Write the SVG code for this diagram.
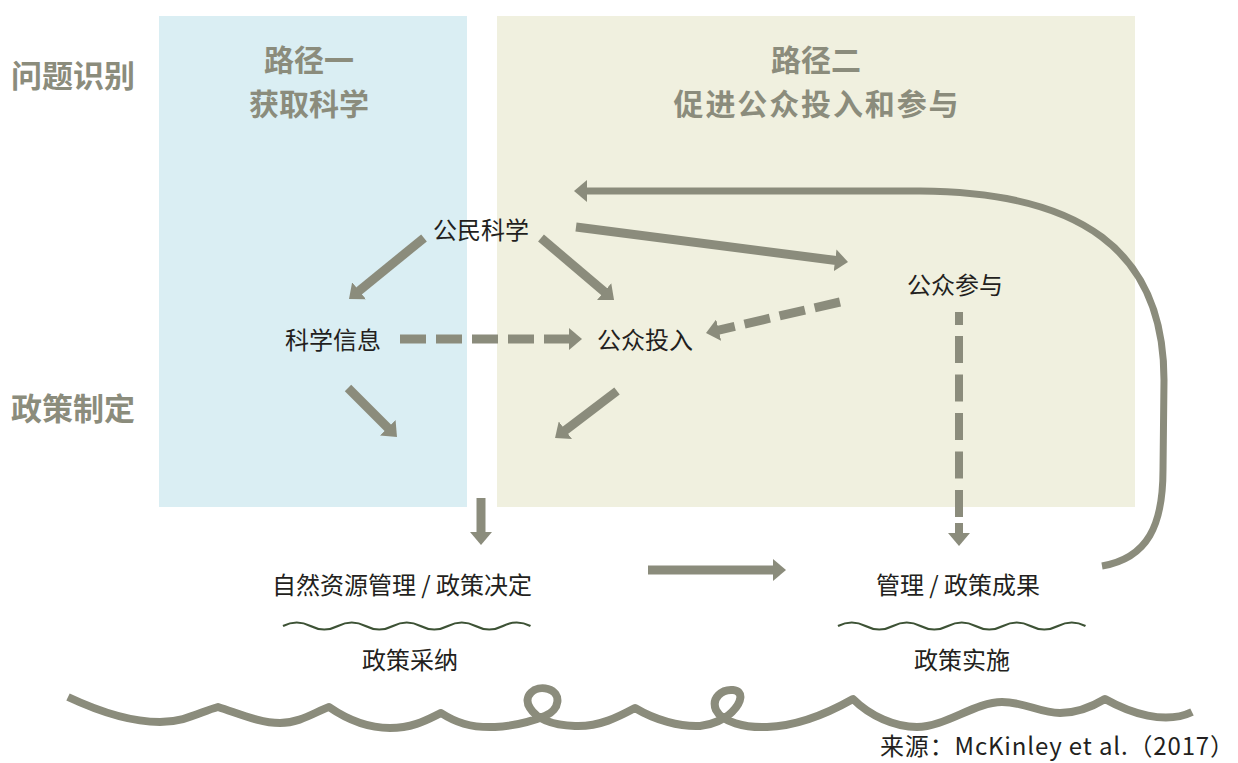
<svg xmlns="http://www.w3.org/2000/svg" width="1238" height="763" viewBox="0 0 1238 763">
<style>
.hd{font-family:"Noto Sans CJK SC","Noto Sans",sans-serif;font-weight:700;font-size:31px;fill:#8b8c7c;text-anchor:middle}
.h2{font-size:30px}
.hl{text-anchor:start}
.lb{font-family:"Noto Sans CJK SC","Noto Sans",sans-serif;font-size:24px;fill:#231f20;text-anchor:middle}
.src{font-family:"Noto Sans CJK SC","Noto Sans",sans-serif;font-size:24px;fill:#231f20}
.ar{fill:none;stroke:#8b8c7c;stroke-width:9;marker-end:url(#ah)}
.da{stroke-dasharray:26 10}
.wv{fill:none;stroke:#3d5235;stroke-width:2.2}
</style>
<defs>
<marker id="ah" markerUnits="userSpaceOnUse" markerWidth="13" markerHeight="22" viewBox="0 0 13 22" refX="1" refY="11" orient="auto">
<path d="M0,0 L13,11 L0,22 z" fill="#8b8c7c"/>
</marker>
</defs>
<rect width="1238" height="763" fill="#ffffff"/>
<g id="path1">
<rect x="159" y="16" width="308" height="491" fill="#daeef3"/>
<text class="hd h2" x="309" y="71">路径一</text>
<text class="hd h2" x="309" y="115">获取科学</text>
</g>
<g id="path2">
<rect x="497" y="16" width="638" height="491" fill="#f0f0df"/>
<text class="hd h2" x="816" y="71">路径二</text>
<text class="hd h2" x="816" y="115" textLength="285" lengthAdjust="spacing">促进公众投入和参与</text>
</g>
<g id="stage-identify"><text class="hd hl" x="11" y="87">问题识别</text></g>
<g id="stage-policy"><text class="hd hl" x="11" y="420">政策制定</text></g>
<g id="connectors">
<path class="ar" d="M424,238 L358.3,291.4"/>
<path class="ar" d="M541,238 L604.9,292.2"/>
<path class="ar" d="M576,227 L836.1,260.5"/>
<path class="ar da" d="M400,339 L570,339"/>
<path class="ar da" d="M840,302 L717.7,330.3"/>
<path class="ar" d="M959,312 L959,534" style="stroke-width:8;stroke-dasharray:13 11 27 11.5 27 11.5 27 11.5 27 11.5 27 6 20"/>
<path class="ar" d="M348,388 L388.5,428.5"/>
<path class="ar" d="M617,391 L564.6,430.8"/>
<path class="ar" d="M481,498 L481,533"/>
<path class="ar" d="M648,570 L774,570"/>
<path class="ar" style="stroke-width:7" d="M1102,566 C1148,558 1163,525 1163,470 L1164,380 C1164,250 1080,192 920,191 L586,191"/>
</g>
<g id="n-citizen-science"><text class="lb" x="481" y="239">公民科学</text></g>
<g id="n-sci-info"><text class="lb" x="333" y="349">科学信息</text></g>
<g id="n-public-input"><text class="lb" x="645" y="349">公众投入</text></g>
<g id="n-public-participation"><text class="lb" x="955" y="294">公众参与</text></g>
<g id="n-decision"><text class="lb" x="402" y="594">自然资源管理 / 政策决定</text>
<path class="wv" d="M283,626 q13.75,-7 27.5,0 t27.5,0 t27.5,0 t27.5,0 t27.5,0 t27.5,0 t27.5,0 t27.5,0 t27.5,0"/>
<text class="lb" x="410" y="669">政策采纳</text></g>
<g id="n-outcome"><text class="lb" x="958" y="594">管理 / 政策成果</text>
<path class="wv" d="M838,626 q13.75,-7 27.5,0 t27.5,0 t27.5,0 t27.5,0 t27.5,0 t27.5,0 t27.5,0 t27.5,0 t27.5,0"/>
<text class="lb" x="962" y="669">政策实施</text></g>
<g id="bottom-wave">
<path fill="none" stroke="#8b8c7c" stroke-width="8" stroke-linejoin="round" d="M68,697 C100,712 130,722 160,722 C185,722 200,712 218,707 C240,714 260,723 280,723 C300,723 315,712 329,707 C345,718 365,728 390,728 C415,728 430,718 441,713 C455,722 470,728 495,727 C515,726 530,722 545,716 C560,710 562,693 548,689 C535,685 522,696 530,708 C536,718 550,725 575,726 C600,727 620,716 635,708 C655,720 680,727 700,726 C712,725 725,719 732,712 C742,702 744,691 733,690 C722,689 711,698 716,710 C722,722 745,728 767,727 C800,726 830,712 853,699 C870,716 895,727 917,727 C945,727 975,702 1002,702 C1025,702 1040,713 1060,713 C1080,713 1095,705 1105,699 C1130,713 1165,725 1192,712"/>
</g>
<g id="source"><text class="src" x="880" y="755" textLength="354" lengthAdjust="spacing">来源：McKinley et al.（2017）</text></g>
</svg>
